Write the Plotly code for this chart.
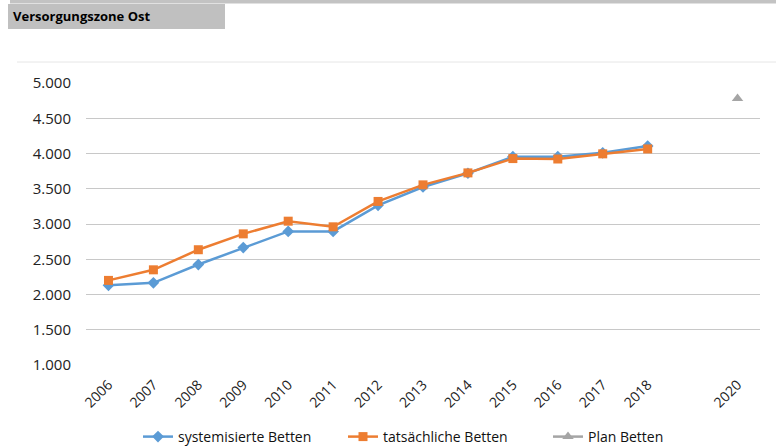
import plotly.graph_objects as go

years = [2006, 2007, 2008, 2009, 2010, 2011, 2012, 2013, 2014, 2015, 2016, 2017, 2018]
systemisierte = [2130, 2165, 2425, 2665, 2895, 2895, 3265, 3525, 3720, 3955, 3955, 4010, 4105]
tatsaechliche = [2200, 2350, 2635, 2860, 3040, 2960, 3320, 3555, 3725, 3928, 3922, 3995, 4065]
plan_years = [2020]
plan = [4780]
tick_years = [2006, 2007, 2008, 2009, 2010, 2011, 2012, 2013, 2014, 2015, 2016, 2017, 2018, 2020]
tick_text = [str(y) for y in tick_years]
y_ticks = [1000, 1500, 2000, 2500, 3000, 3500, 4000, 4500, 5000]
y_text = ["1.000", "1.500", "2.000", "2.500", "3.000", "3.500", "4.000", "4.500", "5.000"]

FONT = "Open Sans"
W, H = 776, 446
L, R, T, B = 86, 16, 83, 81
pw = W - L - R
ph = H - T - B

def px(x):
    return (x - L) / pw

def py(y):
    return (H - B - y) / ph

fig = go.Figure()
fig.add_trace(go.Scatter(x=years, y=systemisierte, name="systemisierte Betten", mode="lines+markers",
                         line=dict(color="#5B9BD5", width=2.5),
                         marker=dict(symbol="diamond", size=9, color="#5B9BD5"), cliponaxis=False))
fig.add_trace(go.Scatter(x=years, y=tatsaechliche, name="tatsächliche Betten", mode="lines+markers",
                         line=dict(color="#ED7D31", width=2.5),
                         marker=dict(symbol="square", size=9, color="#ED7D31"), cliponaxis=False))
fig.add_trace(go.Scatter(x=plan_years, y=plan, name="Plan Betten", mode="lines+markers",
                         line=dict(color="#A5A5A5", width=2.5),
                         marker=dict(symbol="triangle-up", size=10, color="#A5A5A5"), cliponaxis=False))

shapes = [
    dict(type="rect", xref="paper", yref="paper", x0=px(10), x1=px(776), y0=py(0), y1=py(3.5),
         fillcolor="#C3C3C3", line=dict(width=0), layer="below"),
    dict(type="rect", xref="paper", yref="paper", x0=px(8), x1=px(225), y0=py(4), y1=py(29),
         fillcolor="#C0C0C0", line=dict(width=0), layer="below"),
    dict(type="line", xref="paper", yref="paper", x0=px(17), x1=px(776), y0=py(62), y1=py(62),
         line=dict(color="#E6E6E6", width=1)),
]

fig.update_layout(
    width=W, height=H,
    margin=dict(l=L, r=R, t=T, b=B, autoexpand=False),
    paper_bgcolor="white", plot_bgcolor="white",
    font=dict(family=FONT, size=13, color="#222222"),
    showlegend=True,
    legend=dict(orientation="h", x=px(138), xanchor="left", y=py(437), yanchor="middle",
                font=dict(family=FONT, size=14, color="#111111"), tracegroupgap=0,
                entrywidth=160, entrywidthmode="pixels"),
    shapes=shapes,
    annotations=[dict(text="<b>Versorgungszone Ost</b>", xref="paper", yref="paper",
                      x=px(11), y=py(16), xanchor="left", yanchor="middle", showarrow=False,
                      font=dict(family=FONT, size=13, color="#000000"))],
)
fig.update_xaxes(range=[2005.5, 2020.5], tickvals=tick_years, ticktext=tick_text, tickangle=-45,
                 showgrid=False, zeroline=False, showline=False, ticks="", automargin=False,
                 ticklabelstandoff=8,
                 tickfont=dict(family=FONT, size=14, color="#222222"))
fig.update_yaxes(range=[1000, 5000], tickvals=y_ticks, ticktext=y_text, showgrid=True,
                 gridcolor="#C8C8C8", gridwidth=1.3, zeroline=False, showline=False, ticks="",
                 automargin=False, ticklabelstandoff=14,
                 tickfont=dict(family=FONT, size=15, color="#222222"))
fig.write_html("out.html", config={"displayModeBar": False},
               post_script="document.body.style.margin='0';document.body.style.overflow='hidden';")
